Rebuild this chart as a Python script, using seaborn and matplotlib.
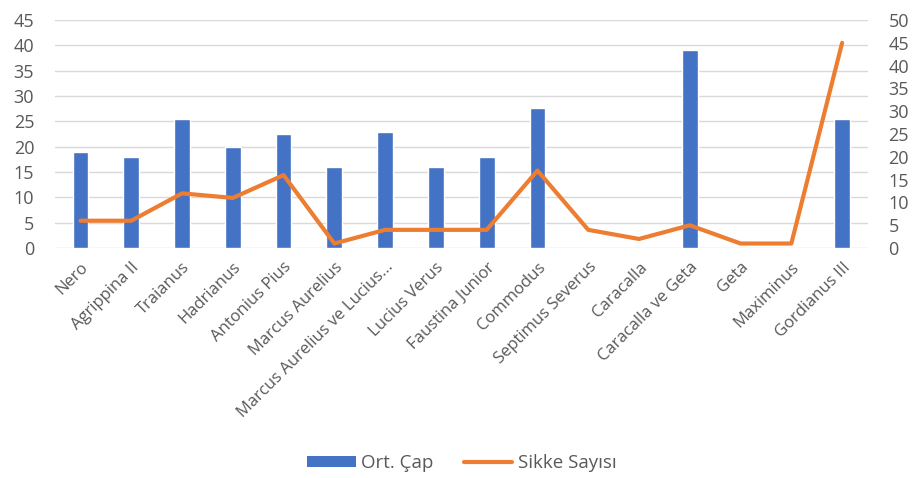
import numpy as np
import matplotlib
matplotlib.use('Agg')
import matplotlib.pyplot as plt
import seaborn as sns
from matplotlib.patches import Patch
from matplotlib.lines import Line2D

emperors = ['Nero', 'Agrippina II', 'Traianus', 'Hadrianus', 'Antonius Pius',
            'Marcus Aurelius', 'Marcus Aurelius ve Lucius...', 'Lucius Verus',
            'Faustina Junior', 'Commodus', 'Septimus Severus', 'Caracalla',
            'Caracalla ve Geta', 'Geta', 'Maximinus', 'Gordianus III']
ort_cap = [19, 18, 25.4, 20, 22.6, 16, 23, 16, 18, 27.7, 0, 0, 39, 0, 0, 25.4]
sikke_sayisi = [6, 6, 12, 11, 16, 1, 4, 4, 4, 17, 4, 2, 5, 1, 1, 45]

BLUE = '#4472C4'
ORANGE = '#ED7D31'
GREY = '#595959'

sns.set_style('white')
plt.rcParams['font.family'] = ['Open Sans', 'DejaVu Sans']

fig, ax = plt.subplots(figsize=(9.18, 4.78), dpi=100)
fig.subplots_adjust(left=0.06, right=0.945, top=0.958, bottom=0.481)

sns.barplot(x=emperors, y=ort_cap, color=BLUE, width=0.31, saturation=1, ax=ax)
ax.set_ylim(0, 45)
ax.set_yticks(range(0, 46, 5))
ax.yaxis.grid(True, color='#D9D9D9', linewidth=1)
ax.set_axisbelow(True)
ax.set_xlim(-0.5, len(emperors) - 0.5)

ax2 = ax.twinx()
sns.lineplot(x=np.arange(len(emperors)), y=sikke_sayisi, color=ORANGE,
             linewidth=3, ax=ax2)
ax2.set_ylim(0, 50)
ax2.set_yticks(range(0, 51, 5))

for a in (ax, ax2):
    for s in a.spines.values():
        s.set_visible(False)
    a.tick_params(axis='y', length=0, colors=GREY, labelsize=13, pad=15)

ax.tick_params(axis='x', length=0, colors=GREY, labelsize=12, pad=8)
plt.setp(ax.get_xticklabels(), rotation=45, ha='right', rotation_mode='anchor')

handles = [Patch(facecolor=BLUE, edgecolor='none'),
           Line2D([0], [0], color=ORANGE, linewidth=3)]
fig.legend(handles, ['Ort. Çap', 'Sikke Sayısı'], loc='center',
           bbox_to_anchor=(0.503, 0.031), ncol=2, frameon=False,
           fontsize=13.5, labelcolor=GREY, handlelength=2.6, handleheight=0.45,
           handletextpad=0.3, columnspacing=1.6)

fig.savefig('out.png', dpi=100)
